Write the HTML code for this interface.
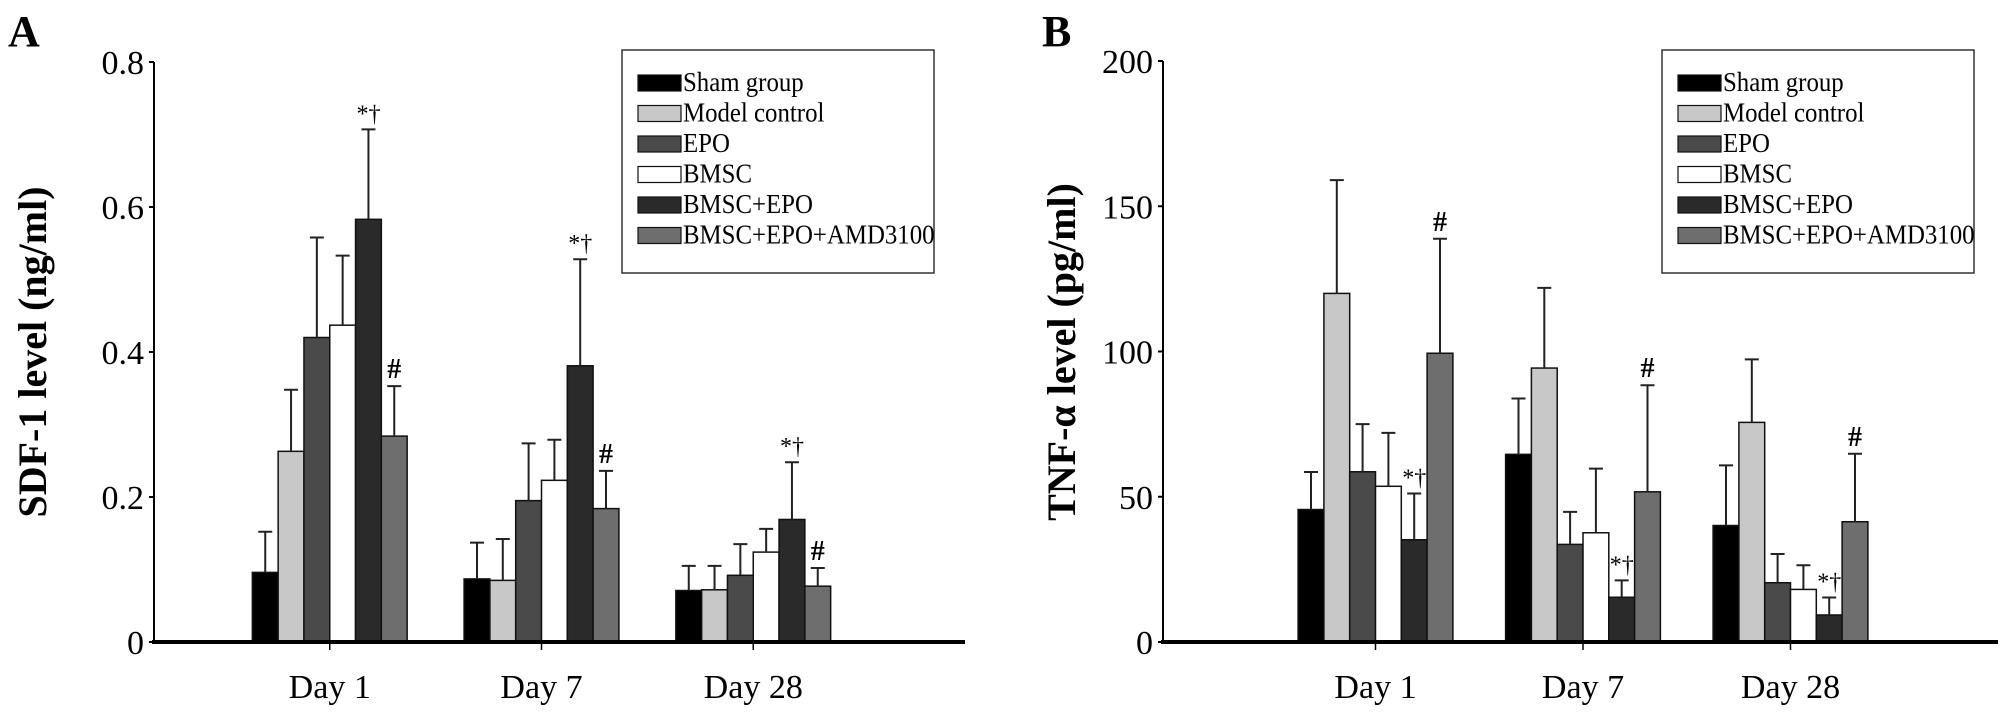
<!DOCTYPE html>
<html><head><meta charset="utf-8">
<style>
html,body{margin:0;padding:0;background:#fff;}
svg{display:block;font-family:"Liberation Serif",serif;}
</style></head>
<body>
<svg id="chart" width="2008" height="713" viewBox="0 0 2008 713"></svg>
<script>
const categories = ["Day 1","Day 7","Day 28"];
const seriesNames = ["Sham group","Model control","EPO","BMSC","BMSC+EPO","BMSC+EPO+AMD3100"];
const seriesColors = ["#000000","#c8c8c8","#4a4a4a","#ffffff","#2a2a2a","#6e6e6e"];
// Panel A: SDF-1 (ng/ml)
const aSham = [0.096,0.087,0.071];
const aModel = [0.263,0.085,0.072];
const aEPO = [0.420,0.195,0.092];
const aBMSC = [0.437,0.223,0.124];
const aBE = [0.583,0.381,0.169];
const aAMD = [0.284,0.184,0.077];
const aShamErr = [0.152,0.137,0.105];
const aModelErr = [0.348,0.142,0.105];
const aEPOErr = [0.558,0.274,0.135];
const aBMSCErr = [0.533,0.279,0.156];
const aBEErr = [0.707,0.528,0.248];
const aAMDErr = [0.353,0.236,0.102];
const aTicks = [0,0.2,0.4,0.6,0.8];
const aTickLabels = ["0","0.2","0.4","0.6","0.8"];
// Panel B: TNF-alpha (pg/ml)
const bSham = [45.6,64.6,40.1];
const bModel = [120,94.3,75.6];
const bEPO = [58.6,33.6,20.4];
const bBMSC = [53.6,37.6,18.1];
const bBE = [35.2,15.4,9.3];
const bAMD = [99.4,51.7,41.4];
const bShamErr = [58.5,83.8,60.8];
const bModelErr = [159,121.9,97.3];
const bEPOErr = [75,44.8,30.3];
const bBMSCErr = [72,59.7,26.4];
const bBEErr = [51.1,21.2,15.3];
const bAMDErr = [138.8,88.4,64.8];
const bTicks = [0,50,100,150,200];
const bTickLabels = ["0","50","100","150","200"];
const aNotes = [[4,0,"*†"],[4,1,"*†"],[4,2,"*†"],[5,0,"#"],[5,1,"#"],[5,2,"#"]];
const bNotes = [[4,0,"*†"],[4,1,"*†"],[4,2,"*†"],[5,0,"#"],[5,1,"#"],[5,2,"#"]];

const NS="http://www.w3.org/2000/svg";
const svg=document.getElementById('chart');
function mk(tag,attrs,parent,text){const e=document.createElementNS(NS,tag);for(const k in attrs)e.setAttribute(k,attrs[k]);if(text!==undefined)e.textContent=text;(parent||svg).appendChild(e);return e;}

function panel(cfg){
  const g=mk('g',{});
  
  
  const y=v=>cfg.y0-(v/cfg.max)*(cfg.y0-cfg.yTop);
  const band=(cfg.xEnd-cfg.bandStart)/4;
  const xc=i=>cfg.bandStart+band*(i+1);
  const bw=25.8;
  const L=mk('text',{x:cfg.letterX,y:46,'font-size':44,'font-weight':'bold'},g,cfg.letter);
  
  
  const yt=mk('text',{x:0,y:0,'font-size':40,'font-weight':'bold','text-anchor':'middle',transform:`translate(${cfg.x0-cfg.titleOff},352) rotate(-90)`},g,cfg.ytitle);
  
  
  cfg.ticks.forEach((t,i)=>{
    const tl=mk('text',{x:cfg.x0-10,y:y(t)+12,'font-size':34,'text-anchor':'end'},g,cfg.tickLabels[i]);
    
    
    mk('line',{x1:cfg.x0-5,x2:cfg.x0,y1:y(t),y2:y(t),stroke:'#000','stroke-width':2},g);
  });
  cfg.series.forEach((vals,s)=>{
    vals.forEach((v,c)=>{
      const bx=xc(c)-3*bw+s*bw;
      const r=mk('rect',{x:bx,y:y(v),width:bw,height:cfg.y0-y(v),fill:seriesColors[s],stroke:'#111','stroke-width':1.5},g);
      
      
      const e=cfg.errs[s][c];
      const cx=bx+bw/2;
      const el=mk('path',{d:`M${cx} ${y(v)} V${y(e)} M${cx-7} ${y(e)} H${cx+7}`,stroke:'#222','stroke-width':2,fill:'none'},g);
      
      
    });
  });
  cfg.notes.forEach(n=>{
    const [s,c,t]=n;
    const cx=xc(c)-3*bw+s*bw+bw/2;
    const tt=mk('text',{x:cx,y:y(cfg.errs[s][c])-8,'font-size':t==='#'?28:24,'font-weight':t==='#'?'bold':'normal','text-anchor':'middle'},g,t);
    
    
  });
  const ya=mk('line',{x1:cfg.x0,x2:cfg.x0,y1:cfg.yTop,y2:cfg.y0,stroke:'#000','stroke-width':2},g);
  
  
  const xa=mk('line',{x1:cfg.x0-2,x2:cfg.xEnd,y1:cfg.y0,y2:cfg.y0,stroke:'#000','stroke-width':4},g);
  
  
  categories.forEach((c,i)=>{
    mk('line',{x1:xc(i),x2:xc(i),y1:cfg.y0,y2:cfg.y0+8,stroke:'#000','stroke-width':1.5},g);
    const t=mk('text',{x:xc(i),y:cfg.y0+56,'font-size':34,'text-anchor':'middle'},g,c);
    
    
  });
  const lg=mk('g',{},g);
  
  
  mk('rect',{x:cfg.lx,y:50,width:cfg.lw,height:223,fill:'#fff',stroke:'#333','stroke-width':1.5},lg);
  seriesNames.forEach((n,i)=>{
    const cy=83+i*30.5;
    const e=mk('g',{},lg);
    
    
    mk('rect',{x:cfg.lx+16,y:cy-8,width:43,height:16,fill:seriesColors[i],stroke:'#111','stroke-width':1.2},e);
    mk('text',{x:cfg.lx+61,y:cy+8,'font-size':27,transform:`translate(${(cfg.lx+61)*0.08},0) scale(0.92,1)`},e,n);
  });
}
panel({name:'panel-a-sdf1',letter:'A',letterX:8,ytitle:'SDF-1 level (ng/ml)',x0:154,bandStart:118,xEnd:965,y0:642,yTop:62,max:0.8,titleOff:108,
  ticks:aTicks,tickLabels:aTickLabels,series:[aSham,aModel,aEPO,aBMSC,aBE,aAMD],
  errs:[aShamErr,aModelErr,aEPOErr,aBMSCErr,aBEErr,aAMDErr],notes:aNotes,lx:622,lw:312});
panel({name:'panel-b-tnf',letter:'B',letterX:1042,ytitle:'TNF-α level (pg/ml)',x0:1163,bandStart:1168,xEnd:1998,y0:642,yTop:61,max:200,titleOff:88,
  ticks:bTicks,tickLabels:bTickLabels,series:[bSham,bModel,bEPO,bBMSC,bBE,bAMD],
  errs:[bShamErr,bModelErr,bEPOErr,bBMSCErr,bBEErr,bAMDErr],notes:bNotes,lx:1662,lw:312});
</script>
</body></html>
